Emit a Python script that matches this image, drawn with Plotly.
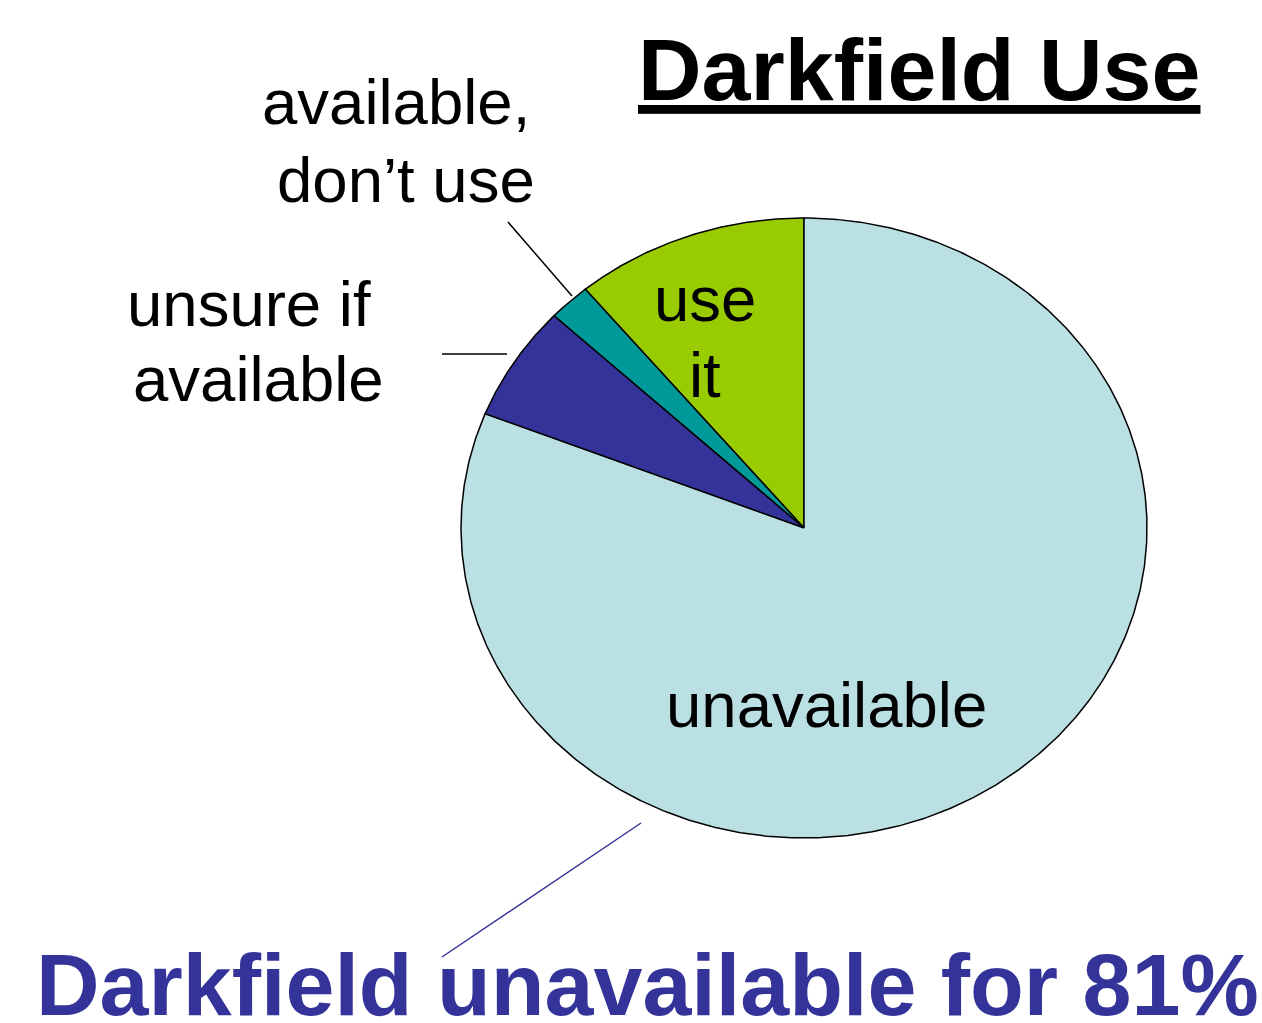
import numpy as np
import plotly.graph_objects as go

# Survey shares (percent), listed counter-clockwise from 12 o'clock
categories = ["use it", "available, don\u2019t use", "unsure if available", "unavailable"]
shares = [11, 2, 6, 81]
slice_colors = ["#99CC00", "#009999", "#333399", "#BBE0E3"]

TITLE = "Darkfield Use"
FOOTNOTE = "Darkfield unavailable for 81%"

W, H = 1262, 1023
CX, CY = 804, 528          # pie centre (page pixels)
RX, RY = 343, 310          # elliptical radii
FONT = "Liberation Sans, Arial, sans-serif"

fig = go.Figure()

total = float(sum(shares))
cum = 0.0
for name, val, col in zip(categories, shares, slice_colors):
    a0 = np.pi / 2 + 2 * np.pi * cum / total
    cum += val
    a1 = np.pi / 2 + 2 * np.pi * cum / total
    t = np.linspace(a0, a1, max(8, int(val * 8)))
    xs = np.concatenate([[CX], CX + RX * np.cos(t), [CX]])
    ys = np.concatenate([[CY], CY - RY * np.sin(t), [CY]])
    fig.add_trace(go.Scatter(
        x=xs, y=ys, mode="lines", fill="toself", fillcolor=col,
        line=dict(color="black", width=1.5), name=name,
        hoverinfo="skip", showlegend=False,
    ))


def label(text, x, baseline, size=63.5, color="black", bold=False):
    body = f"<b>{text}</b>" if bold else text
    fig.add_annotation(
        x=x, y=baseline - 0.35 * size, xref="x", yref="y",
        text=body, showarrow=False, xanchor="center", yanchor="middle",
        font=dict(family=FONT, size=size, color=color),
    )


# Slice labels
label("available,", 396, 124)
label("don\u2019t use", 406, 202)
label("unsure if", 249, 326)
label("available", 258, 401)
label("use", 705, 321)
label("it", 705, 397)
label("unavailable", 826, 727)

# Headline and footnote
label(f"<u>{TITLE}</u>", 919, 100, size=88, bold=True)
label(FOOTNOTE, 647, 1015, size=88, color="#333399", bold=True)

# Leader lines
fig.add_shape(type="line", x0=508, y0=222, x1=572, y1=296,
              line=dict(color="black", width=1.5), xref="x", yref="y")
fig.add_shape(type="line", x0=442, y0=354, x1=507, y1=354,
              line=dict(color="black", width=1.5), xref="x", yref="y")
fig.add_shape(type="line", x0=442, y0=957, x1=641, y1=823,
              line=dict(color="#333399", width=1.5), xref="x", yref="y")

fig.update_layout(
    width=W, height=H,
    margin=dict(l=0, r=0, t=0, b=0),
    paper_bgcolor="white", plot_bgcolor="white",
    xaxis=dict(range=[0, W], visible=False, fixedrange=True),
    yaxis=dict(range=[H, 0], visible=False, fixedrange=True),
    showlegend=False,
)

fig.write_html("out.html")
